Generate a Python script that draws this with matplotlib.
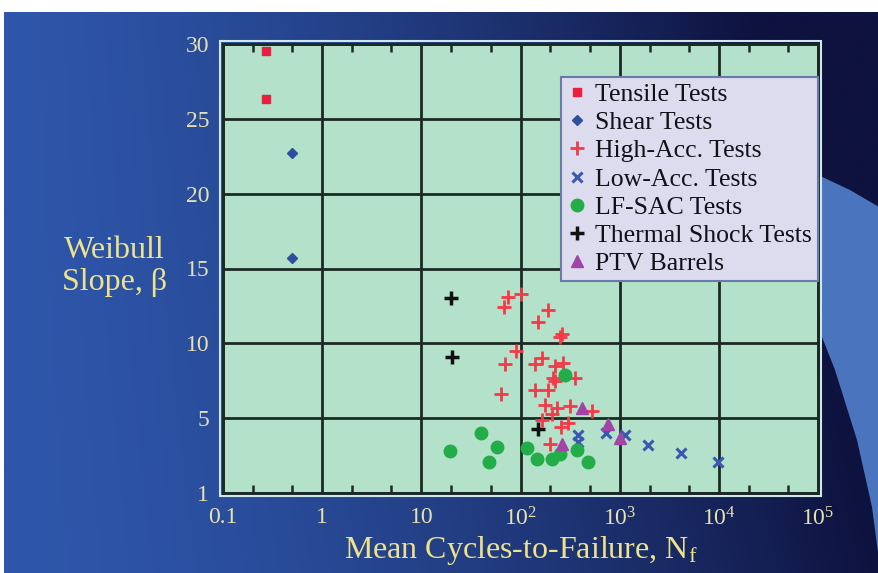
import numpy as np
import matplotlib
matplotlib.use("Agg")
import matplotlib.pyplot as plt
from matplotlib.patches import Polygon, Rectangle
from matplotlib.ticker import FixedLocator, LogLocator, NullFormatter

plt.rcParams['font.family'] = ['Liberation Serif', 'DejaVu Serif']
plt.rcParams['mathtext.fontset'] = 'custom'
plt.rcParams['mathtext.rm'] = 'Liberation Serif'
plt.rcParams['mathtext.it'] = 'Liberation Serif:italic'

# data (x = mean cycles to failure, y = Weibull slope)
tensile_x = [0.27, 0.27]
tensile_y = [29.5, 26.3]
shear_x = [0.5, 0.5]
shear_y = [22.7, 15.7]
high_x = [75, 100, 68, 190, 151, 260, 250, 91, 70, 140, 163, 222, 269, 353,
          214, 63, 140, 190, 222, 176, 231, 315, 521, 206, 163, 303, 255, 198]
high_y = [13.1, 13.3, 12.4, 12.2, 11.4, 10.6, 10.4, 9.5, 8.6, 8.6, 9.0, 8.5, 8.7, 7.7,
          7.7, 6.6, 6.9, 6.9, 7.5, 5.9, 5.7, 5.8, 5.5, 5.3, 4.9, 4.7, 4.4, 3.3]
low_x = [380, 380, 720, 1130, 1940, 4200, 9800]
low_y = [3.9, 3.4, 4.0, 3.9, 3.2, 2.7, 2.1]
lfsac_x = [19.4, 39.6, 57.4, 48.4, 117, 147, 206, 250, 368, 482, 280]
lfsac_y = [2.8, 4.0, 3.1, 2.1, 3.0, 2.3, 2.3, 2.6, 2.9, 2.1, 7.9]
thermal_x = [20, 20.5, 151]
thermal_y = [13.0, 9.1, 4.3]
ptv_x = [413, 760, 1016, 260]
ptv_y = [5.7, 4.6, 3.7, 3.3]

y_ticks = [0, 5, 10, 15, 20, 25, 30]
y_ticklabels = ['1', '5', '10', '15', '20', '25', '30']
x_ticks = [0.1, 1, 10, 1e2, 1e3, 1e4, 1e5]
x_ticklabels = ['0.1', '1', '10', '$10^2$', '$10^3$', '$10^4$', '$10^5$']

W, H = 879, 573
fig = plt.figure(figsize=(W / 100, H / 100), dpi=100)
fig.patch.set_facecolor('white')

# slide background (pixel coordinates)
bg = fig.add_axes([0, 0, 1, 1], zorder=-5)
bg.set_xlim(0, W)
bg.set_ylim(H, 0)
bg.axis('off')
xx = np.linspace(0, 1, 300)
yy = np.linspace(0, 1, 200)
X, Y = np.meshgrid(xx, yy)
t = np.clip(X ** 1.6 + 0.25 * (1 - Y) * X, 0, 1)
left_c = np.array([46, 86, 170]) / 255
right_c = np.array([14, 18, 62]) / 255
img = left_c[None, None, :] * (1 - t[..., None]) + right_c[None, None, :] * t[..., None]
bg.imshow(img, extent=[4, W, H, 12], aspect='auto', interpolation='bilinear')
swoosh = Polygon([[818, 175], [850, 190], [879, 207], [879, 560], [872, 507],
                  [857, 440], [835, 370], [822, 337], [818, 300]],
                 closed=True, facecolor='#4a74bd', edgecolor='none')
bg.add_patch(swoosh)

# main plot
ax = fig.add_axes([223 / W, 1 - 493 / H, 595 / W, 449 / H])
ax.set_facecolor('#b3e1ca')
ax.set_xscale('log')
ax.set_xlim(0.1, 1e5)
ax.set_ylim(0, 30)

ax.plot(tensile_x, tensile_y, ls='none', marker='s', ms=6, color='#e8203f', label='Tensile Tests')
ax.plot(shear_x, shear_y, ls='none', marker='D', ms=5.5, color='#2d4f9e', label='Shear Tests')
ax.plot(high_x, high_y, ls='none', marker='+', ms=10, mew=2, color='#f23a48', label='High-Acc. Tests')
ax.plot(low_x, low_y, ls='none', marker='x', ms=7, mew=2.2, color='#3a58b0', label='Low-Acc. Tests')
ax.plot(lfsac_x, lfsac_y, ls='none', marker='o', ms=9, color='#22ad48', label='LF-SAC Tests')
ax.plot(thermal_x, thermal_y, ls='none', marker='+', ms=10, mew=2.5, color='#111111', label='Thermal Shock Tests')
ax.plot(ptv_x, ptv_y, ls='none', marker='^', ms=9, color='#a243a6', label='PTV Barrels')

ax.set_axisbelow(True)
ax.xaxis.set_major_locator(FixedLocator(x_ticks))
ax.xaxis.set_minor_locator(LogLocator(base=10, subs=(2, 5)))
ax.xaxis.set_minor_formatter(NullFormatter())
ax.set_xticks(x_ticks)
ax.set_xticklabels(x_ticklabels)
ax.set_yticks(y_ticks)
ax.set_yticklabels(y_ticklabels)
ax.grid(True, which='major', color='#1c2a24', linewidth=2)
ax.tick_params(which='major', length=0, labelsize=17, labelcolor='#e6e2ae')
ax.tick_params(axis='y', pad=10)
ax.tick_params(axis='x', pad=10)
ax.tick_params(axis='x', which='minor', direction='in', length=6, width=1.8,
               color='#1c2a24', top=True, bottom=True)
for s in ax.spines.values():
    s.set_color('#1c2a24')
    s.set_linewidth(2)

# light outline round the plot frame
fig.patches.append(Rectangle((220 / W, 1 - 496 / H), 601 / W, 455 / H,
                             transform=fig.transFigure, fill=False,
                             edgecolor='#cfe9ea', linewidth=1.5, zorder=-1))

ax.set_xlabel('Mean Cycles-to-Failure, N$_\\mathrm{f}$', fontsize=23, color='#eee28a')
ax.xaxis.set_label_coords(0.5, -0.128)
ax.xaxis.label.set_va('center')
ax.set_ylabel('Weibull\nSlope, \u03b2', fontsize=23, color='#eee28a', rotation=0,
              ha='center', va='center', linespacing=1.15)
ax.yaxis.set_label_coords(-0.183, 0.505)

leg = ax.legend(loc='upper right', bbox_to_anchor=(1.0, 0.927), borderaxespad=0,
                fontsize=18.5, frameon=True, fancybox=False, framealpha=1,
                facecolor='#dcdcee', edgecolor='#6b7aa8', labelspacing=0.2,
                handlelength=0.7, handletextpad=0.35, borderpad=0.25)
for txt in leg.get_texts():
    txt.set_color('#111118')
leg.get_frame().set_linewidth(1.5)

fig.savefig('out.png', dpi=100, facecolor=fig.get_facecolor())
